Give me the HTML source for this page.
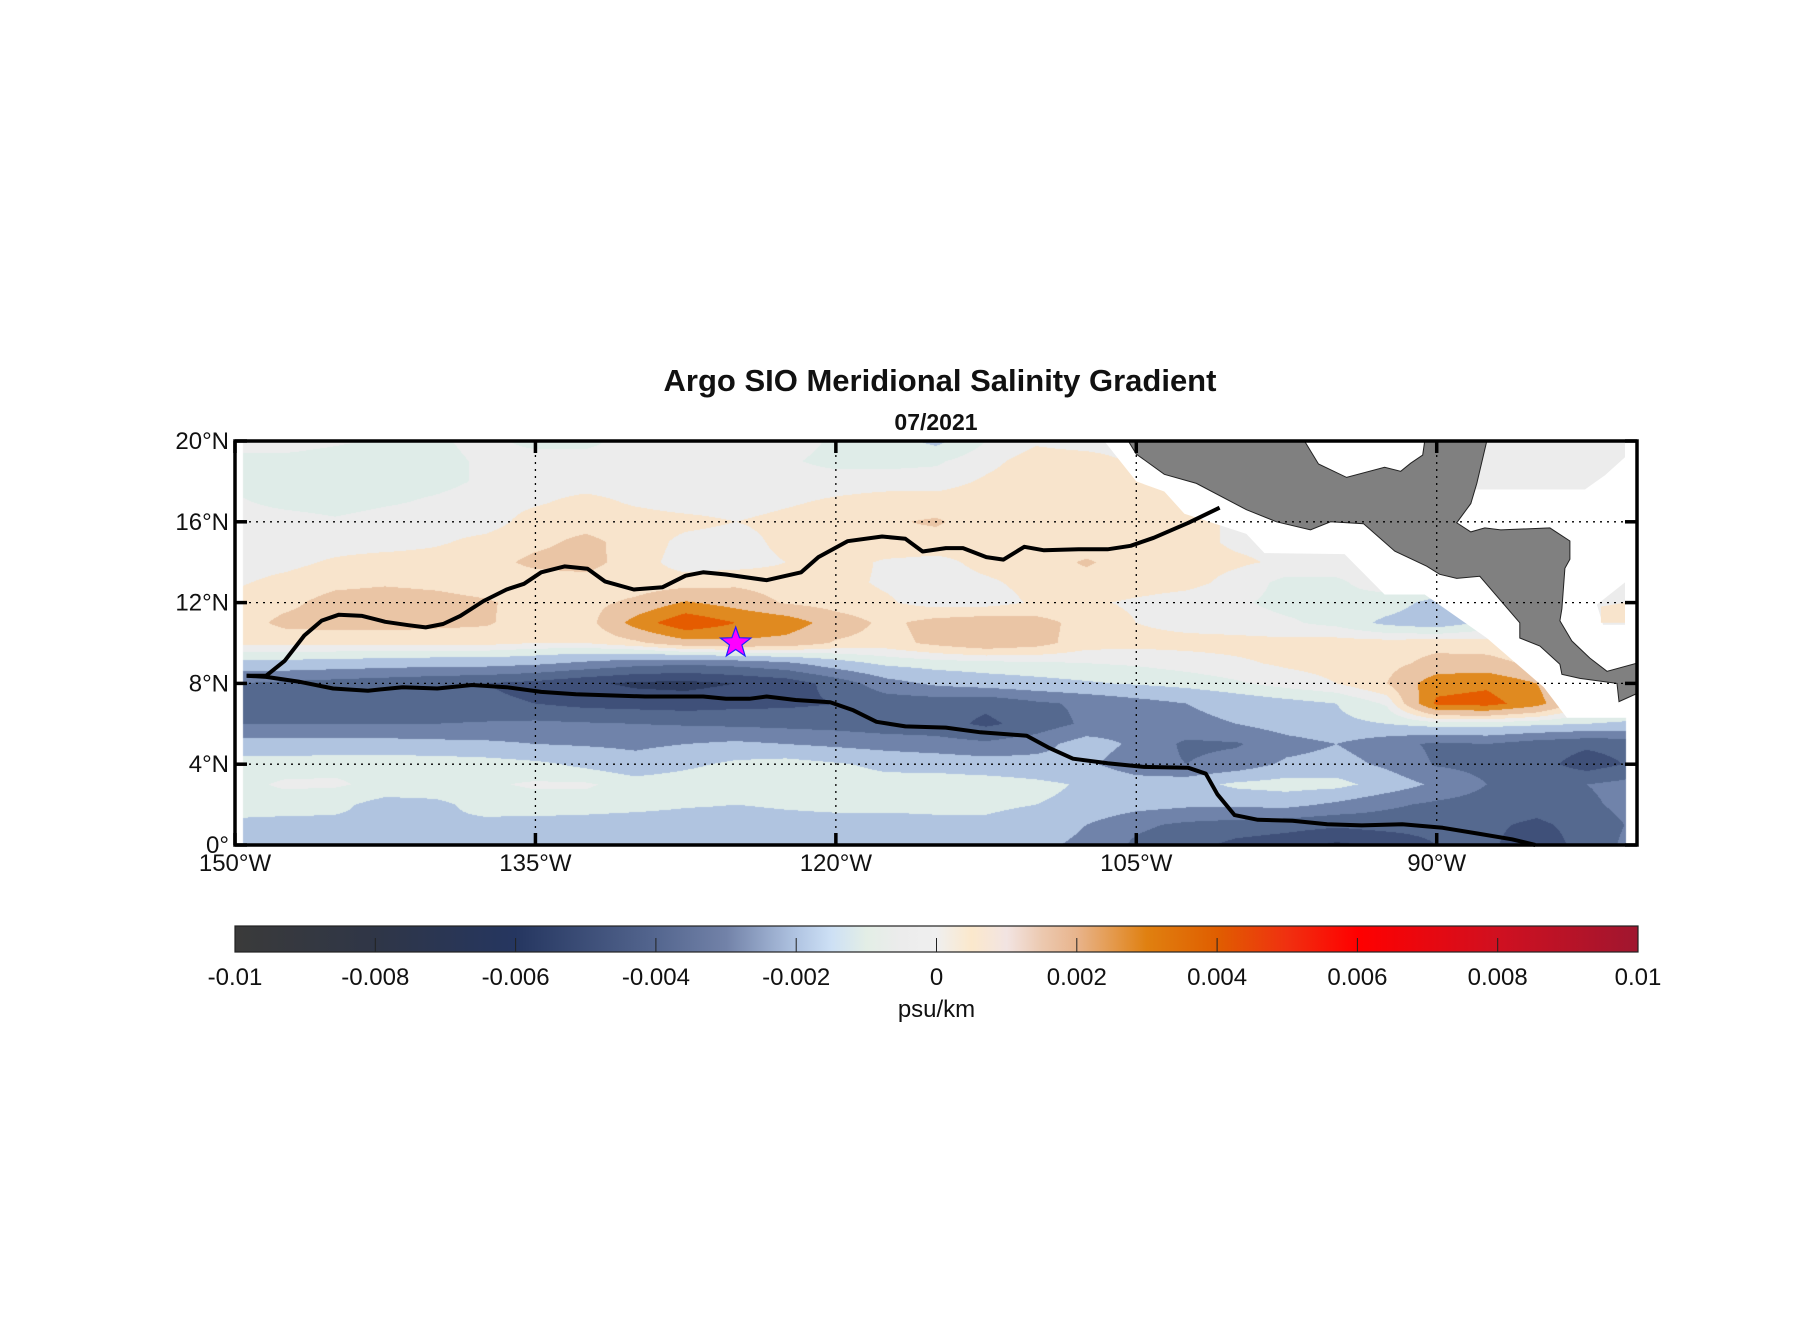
<!DOCTYPE html>
<html><head><meta charset="utf-8">
<style>
html,body{margin:0;padding:0;background:#fff;}
#wrap{position:relative;width:1808px;height:1333px;overflow:hidden;background:#fff;}
#field{position:absolute;left:235px;top:441px;}
svg{position:absolute;left:0;top:0;}
text{font-family:"Liberation Sans",Arial,sans-serif;fill:#111;}
</style></head>
<body>
<div id="wrap">
<canvas id="field" width="1402" height="404"></canvas>
<svg id="svg" width="1808" height="1333"></svg>
</div>
<script>
// ---- data (values in 1e-3 psu/km); rows lat 20 -> 0, columns lon 150W -> 80W step 2.5
const lons = [150,147.5,145,142.5,140,137.5,135,132.5,130,127.5,125,122.5,120,117.5,115,112.5,110,107.5,105,102.5,100,97.5,95,92.5,90,87.5,85,82.5,80];
const lats = [20,19,18,17,16,15,14,13,12,11,10,9,8,7,6,5,4,3,2,1,0];
const grad = [
[0,0,-0.2,-0.4,-0.4,-0.1,-0.5,-0.5,0,0,0,0,-0.4,-0.6,-1.2,-0.3,0.2,0,0,0,0,0,0,0,0,0,0,0,0],
[-0.5,-0.5,-0.6,-0.6,-0.5,-0.2,0,0,0,0,0,-0.2,-0.5,-0.5,-0.4,0.1,0.6,0.6,0.2,0,0,0,0,0,0,0,0,0,0],
[-0.5,-0.6,-0.6,-0.6,-0.5,-0.2,0,0,0,0,0,0,0,0,0,0.4,0.7,0.6,0.4,0.3,0,0,0,0,0,0,0,0,0],
[-0.2,-0.5,-0.6,-0.4,-0.2,0,0.2,0.5,0.2,0,0,0.2,0.4,0.6,0.6,0.7,0.7,0.5,0.5,0.5,0.2,0,0,0,0,0,0,0,0],
[0,0,-0.2,0,0,0,0.6,0.7,0.6,0.5,0.3,0.5,0.7,0.9,1.1,0.6,0.5,0.5,0.5,0.5,0.2,0,0,0,0,0,0,0,0],
[0,0,0,0,0.2,0.5,0.8,1.2,0.7,0.1,0,0.5,0.7,0.8,0.7,0.6,0.5,0.5,0.5,0.5,0.2,0.1,0,0,0,0,0,0,0],
[0,0.1,0.4,0.6,0.6,0.7,1.2,1.3,0.6,0,0,0.3,0.6,0.2,0.1,0.5,0.6,1.1,0.6,0.5,0.4,0.2,0,0,0,0,0,0,0],
[0.2,0.5,0.8,0.9,0.8,0.6,0.6,0.7,0.5,0.6,0.8,0.6,0.5,0.2,0,0.2,0.5,0.7,0.6,0.5,0.1,-0.5,-0.4,0,0,0,0,0,0],
[0.5,0.8,1.3,1.4,1.3,1.1,0.7,0.7,1.2,2.1,1.6,0.9,0.6,0.4,0,0,0.4,0.4,0.2,0,-0.2,-0.5,-0.4,-0.6,-1.3,-0.5,0,0,0],
[0.6,1.2,1.3,1.3,1.2,1.1,0.6,0.6,2.4,3.8,3.0,2.6,1.5,0.8,1.3,1.5,1.3,0.7,0.3,0.1,0,-0.2,-0.5,-1.2,-1.5,-0.8,0,0,0],
[0.5,0.5,0.5,0.5,0.5,0.5,0.3,0.3,0.8,1.6,1.8,1.6,0.9,0.7,1.2,1.6,1.3,0.6,0.5,0.5,0.5,0.5,0.6,0.6,0.7,0.6,0.3,0,0],
[-1.3,-1.3,-1.4,-1.5,-1.6,-1.6,-1.8,-2.2,-2.6,-2.8,-2.6,-2.2,-1.4,-0.8,-0.6,-0.5,-0.4,-0.3,-0.2,0,0.2,0.4,0.5,0.7,1.3,1.3,0.8,0.2,0],
[-3.0,-3.2,-3.4,-3.6,-3.8,-4.0,-4.3,-4.8,-5.2,-5.3,-5.0,-4.6,-3.6,-2.4,-1.8,-1.5,-1.3,-1.1,-0.9,-0.7,-0.4,0,0.3,1.0,2.6,2.8,2.0,0.3,0],
[-3.8,-3.9,-3.9,-3.8,-3.8,-3.8,-4.0,-4.3,-4.4,-4.5,-4.3,-4.2,-4.0,-3.6,-3.6,-3.8,-3.2,-2.8,-2.4,-2.0,-1.6,-1.3,-1.0,-0.2,3.2,3.4,2.4,0.3,0],
[-3.0,-3.0,-3.0,-3.0,-3.0,-2.9,-2.8,-2.9,-3.0,-3.1,-3.2,-3.3,-3.4,-3.6,-3.6,-4.2,-3.6,-2.8,-2.4,-2.3,-2.0,-1.5,-1.2,-1.0,-0.6,-0.6,-0.8,-1.0,-1.2],
[-1.6,-1.6,-1.6,-1.6,-1.7,-1.8,-2.0,-2.1,-2.2,-2.0,-1.8,-2.0,-2.2,-2.4,-2.6,-2.8,-2.4,-1.5,-2.2,-3.2,-3.1,-2.4,-2.0,-2.6,-3.2,-3.0,-3.5,-3.8,-3.6],
[-0.6,-0.6,-0.5,-0.5,-0.5,-0.6,-0.8,-1.2,-1.6,-1.2,-0.8,-0.6,-0.9,-1.2,-1.3,-1.5,-1.6,-1.8,-2.6,-3.0,-2.6,-1.8,-1.6,-2.2,-3.1,-3.3,-3.6,-4.5,-3.8],
[-0.5,-0.2,-0.2,-0.5,-0.5,-0.4,-0.2,-0.2,-0.6,-0.5,-0.5,-0.6,-0.6,-0.7,-0.6,-0.6,-0.8,-1.1,-1.5,-1.4,-0.8,-0.6,-0.7,-1.4,-2.2,-3.0,-3.2,-3.0,-2.6],
[-0.6,-0.6,-0.8,-1.3,-1.2,-0.7,-0.6,-0.6,-0.7,-0.9,-1.0,-0.9,-0.8,-0.8,-0.8,-0.8,-1.0,-1.2,-1.6,-1.8,-1.8,-1.7,-2.2,-2.8,-3.2,-3.4,-3.6,-3.2,-2.6],
[-1.2,-1.3,-1.2,-1.1,-1.1,-1.2,-1.3,-1.4,-1.5,-1.5,-1.4,-1.3,-1.3,-1.3,-1.2,-1.2,-1.5,-2.0,-2.8,-3.2,-3.4,-3.6,-3.8,-3.6,-3.6,-3.8,-4.2,-3.6,-2.8],
[-1.5,-1.5,-1.5,-1.5,-1.5,-1.5,-1.5,-1.5,-1.6,-1.6,-1.5,-1.5,-1.5,-1.5,-1.5,-1.5,-1.8,-2.2,-3.2,-3.6,-4.3,-4.6,-5.2,-4.8,-4.0,-3.8,-4.6,-3.6,-2.6]
];
// contour lines (lon W, lat N)
const line1Lon = [149.42,148.44,147.52,146.54,145.67,144.81,143.65,142.50,141.34,140.48,139.61,138.75,137.59,136.44,135.57,134.71,133.55,132.40,131.53,130.09,128.65,127.50,126.63,125.48,123.46,121.73,120.87,119.42,117.69,116.53,115.67,114.51,113.65,112.49,111.63,110.59,109.61,107.88,106.43,105.28,104.13,102.40,100.84];
const line1Lat = [8.38,8.38,9.12,10.37,11.11,11.40,11.34,11.05,10.88,10.77,10.94,11.34,12.08,12.65,12.93,13.50,13.79,13.68,13.05,12.65,12.76,13.33,13.50,13.39,13.11,13.50,14.25,15.04,15.27,15.16,14.53,14.70,14.70,14.25,14.13,14.76,14.59,14.64,14.64,14.81,15.21,15.95,16.70];
const line2Lon = [149.42,148.44,146.83,145.10,143.36,141.63,139.90,138.17,136.44,134.71,132.98,129.52,126.63,125.48,124.32,123.46,122.01,120.28,119.13,117.97,116.53,114.51,112.78,110.47,109.32,108.16,106.43,104.70,102.40,101.53,100.95,100.09,98.93,97.20,95.47,93.74,91.72,89.70,87.97,86.24,85.08];
const line2Lat = [8.38,8.32,8.09,7.75,7.64,7.81,7.75,7.92,7.81,7.58,7.46,7.35,7.35,7.24,7.24,7.35,7.18,7.07,6.67,6.10,5.87,5.81,5.58,5.41,4.79,4.27,4.05,3.87,3.82,3.53,2.51,1.48,1.25,1.20,1.03,0.97,1.03,0.85,0.57,0.28,0];
const starLon = [125.0], starLat = [10.0];
const lonTicks = [150,135,120,105,90];
const lonTickLabels = ["150°W","135°W","120°W","105°W","90°W"];
const latTicks = [0,4,8,12,16,20];
const latTickLabels = ["0°","4°N","8°N","12°N","16°N","20°N"];
const cbTicks = [-0.01,-0.008,-0.006,-0.004,-0.002,0,0.002,0.004,0.006,0.008,0.01];
const cbTickLabels = ["-0.01","-0.008","-0.006","-0.004","-0.002","0","0.002","0.004","0.006","0.008","0.01"];
// level classes (1e-3 units)
const levelEdges = [-5,-4,-3,-2,-1,-0.3,0.3,1,2,3];
const levelColors = ["#2d3b5e","#3f5079","#55698f","#7083aa","#b0c4e0","#dfece8","#ececec","#f8e4cc","#eac5a5","#e08a20","#e55c00"];

// ---- axes
const X0=235,X1=1637,Y0=441,Y1=845;
const LONW=150, LONE=80;
function xOf(lon){return X0+(LONW-lon)/(LONW-LONE)*(X1-X0);}
function yOf(lat){return Y1-lat/20*(Y1-Y0);}
const CB0=235,CB1=1638,CBY=926,CBH=26;
function cbX(v){return CB0+(v+0.01)/0.02*(CB1-CB0);}

// ---- field
(function(){
  const cv=document.getElementById('field');const ctx=cv.getContext('2d');
  const W=cv.width,H=cv.height;const img=ctx.createImageData(W,H);
  const cols=levelColors.map(h=>[parseInt(h.substr(1,2),16),parseInt(h.substr(3,2),16),parseInt(h.substr(5,2),16)]);
  const lonL=149.6,lonR=80.55;
  for(let py=0;py<H;py++){
    const lat=20-(py+0.5)/H*20;
    let r=(20-lat); let r0=Math.min(Math.floor(r),19); let fr=r-r0;
    for(let px=0;px<W;px++){
      const lon=LONW-(px+0.5)/W*(LONW-LONE);
      const k=(py*W+px)*4;
      if(lon>lonL||lon<lonR){img.data[k]=255;img.data[k+1]=255;img.data[k+2]=255;img.data[k+3]=255;continue;}
      let c=(LONW-lon)/2.5; let c0=Math.min(Math.floor(c),27); let fc=c-c0;
      const v=(grad[r0][c0]*(1-fc)+grad[r0][c0+1]*fc)*(1-fr)+(grad[r0+1][c0]*(1-fc)+grad[r0+1][c0+1]*fc)*fr;
      let idx=0; while(idx<levelEdges.length&&v>=levelEdges[idx])idx++;
      const col=cols[idx];
      img.data[k]=col[0];img.data[k+1]=col[1];img.data[k+2]=col[2];img.data[k+3]=255;
    }
  }
  ctx.putImageData(img,0,0);
})();

// ---- svg
const NS='http://www.w3.org/2000/svg';
const svg=document.getElementById('svg');
function mk(tag,attrs,parent){const e=document.createElementNS(NS,tag);for(const a in attrs)e.setAttribute(a,attrs[a]);(parent||svg).appendChild(e);return e;}
function ptsLL(arr){return arr.map(p=>xOf(p[0]).toFixed(1)+','+yOf(p[1]).toFixed(1)).join(' ');}

// mask (no data near coast)
const maskPoly=[[106.6,20],[105,18.0],[103.6,17.5],[102.6,16.4],[99.5,15.4],[98.6,14.45],[94.6,14.4],[92.6,12.4],[90.6,12.4],[87.5,10.25],[84.65,7.8],[83.5,6.3],[80,6.3],[80,20]];
let m=mk('polygon',{points:ptsLL(maskPoly),fill:'#ffffff'});


let g1=mk('polygon',{points:ptsLL([[88.2,20],[80.6,20],[80.6,19.2],[81.6,18.3],[82.6,17.6],[88.2,17.6]]),fill:'#ececec'});


let g2=mk('polygon',{points:ptsLL([[80.6,13.0],[82.0,11.9],[81.7,10.9],[80.6,10.9]]),fill:'#ececec'});


let g3=mk('polygon',{points:ptsLL([[80.6,12.0],[81.8,11.8],[81.8,11.0],[80.6,11.0]]),fill:'#f8e4cc'});



// land
const land=[[105.4,20],[105,19.35],[103.6,18.35],[102.0,17.9],[99.5,16.6],[98.0,16.0],[96.3,15.6],[95.3,16.0],[93.65,15.9],[92.1,14.55],[90.5,13.8],[89.85,13.4],[89.0,13.2],[87.85,13.3],[87.5,12.9],[85.85,11.0],[85.85,10.25],[84.85,9.85],[83.85,8.95],[83.75,8.45],[82.85,8.25],[81.0,8.0],[80.9,7.1],[80,7.5],[80,9.0],[81.5,8.6],[82.35,9.25],[83.25,10.1],[83.85,11.1],[83.75,11.7],[83.6,13.7],[83.35,14.15],[83.35,15.05],[84.35,15.7],[86.8,15.6],[87.6,15.7],[88.3,15.5],[89.0,15.95],[88.3,16.9],[88.0,17.9],[87.5,20],[90.6,20],[90.7,19.3],[91.3,18.9],[91.8,18.5],[92.6,18.7],[94.5,18.2],[95.9,18.86],[96.6,20]];
let ld=mk('polygon',{points:ptsLL(land),fill:'#808080',stroke:'#222','stroke-width':1});



// grid
lonTicks.slice(1).forEach((lon,i)=>{
  const l=mk('line',{x1:xOf(lon),x2:xOf(lon),y1:Y0,y2:Y1,stroke:'#000','stroke-width':1.3,'stroke-dasharray':'2,5'});
  
  
});
latTicks.slice(1,5).forEach(lat=>{
  const l=mk('line',{x1:X0,x2:X1,y1:yOf(lat),y2:yOf(lat),stroke:'#000','stroke-width':1.3,'stroke-dasharray':'2,5'});
  
  
});

// contour lines
function polyl(lonA,latA,name){
  const p=lonA.map((lo,i)=>xOf(lo).toFixed(1)+','+yOf(latA[i]).toFixed(1)).join(' ');
  const e=mk('polyline',{points:p,fill:'none',stroke:'#000','stroke-width':4,'stroke-linejoin':'round'});
  
  
}
polyl(line1Lon,line1Lat,'northern-contour-line');
polyl(line2Lon,line2Lat,'southern-contour-line');

// star
starLon.forEach((lo,i)=>{
  const cx=xOf(lo),cy=yOf(starLat[i]);let p=[];
  for(let k=0;k<10;k++){const r=k%2?6.5:16;const a=-Math.PI/2+k*Math.PI/5;p.push((cx+r*Math.cos(a)).toFixed(1)+','+(cy+r*Math.sin(a)).toFixed(1));}
  const s=mk('polygon',{points:p.join(' '),fill:'#ff00ff',stroke:'#2020ff','stroke-width':1.2});
  
  
});

// box
let bx=mk('rect',{x:X0,y:Y0,width:X1-X0,height:Y1-Y0,fill:'none',stroke:'#000','stroke-width':3.5});


// ticks + labels
lonTicks.forEach((lon,i)=>{
  const x=xOf(lon);
  mk('line',{x1:x,x2:x,y1:Y1,y2:Y1-12,stroke:'#000','stroke-width':3.5});
  mk('line',{x1:x,x2:x,y1:Y0,y2:Y0+12,stroke:'#000','stroke-width':3.5});
  const t=mk('text',{x:x,y:871,'font-size':24,'text-anchor':'middle'});t.textContent=lonTickLabels[i];
  
  
});
latTicks.forEach((lat,i)=>{
  const y=yOf(lat);
  mk('line',{x1:X0,x2:X0+12,y1:y,y2:y,stroke:'#000','stroke-width':3.5});
  mk('line',{x1:X1,x2:X1-12,y1:y,y2:y,stroke:'#000','stroke-width':3.5});
  const t=mk('text',{x:229,y:y+8,'font-size':24,'text-anchor':'end'});t.textContent=latTickLabels[i];
  
  
});

// titles
let tt=mk('text',{x:940,y:391,'font-size':31,'font-weight':'bold','text-anchor':'middle'});tt.textContent='Argo SIO Meridional Salinity Gradient';


let st=mk('text',{x:936,y:430,'font-size':23,'font-weight':'bold','text-anchor':'middle'});st.textContent='07/2021';



// colorbar
const defs=mk('defs',{});
const lg=mk('linearGradient',{id:'cbg',x1:0,x2:1,y1:0,y2:0},defs);
const cbStops=[[-0.01,'#3a3a3a'],[-0.008,'#2f3647'],[-0.006,'#253660'],[-0.004,'#54668f'],[-0.003,'#7282a8'],[-0.002,'#b0c4e2'],[-0.0015,'#cde0f5'],[-0.001,'#e3eee6'],[-0.0005,'#ececec'],[0,'#efefef'],[0.0005,'#fbe8cc'],[0.001,'#f2e4e2'],[0.0015,'#ecc9b0'],[0.002,'#e8b48c'],[0.003,'#e08010'],[0.004,'#e05e00'],[0.005,'#f03010'],[0.006,'#ff0000'],[0.008,'#d01020'],[0.01,'#a0162f']];
cbStops.forEach(s=>mk('stop',{offset:((s[0]+0.01)/0.02*100).toFixed(2)+'%','stop-color':s[1]},lg));
let cb=mk('rect',{x:CB0,y:CBY,width:CB1-CB0,height:CBH,fill:'url(#cbg)',stroke:'#222','stroke-width':1.2});


cbTicks.forEach((v,i)=>{
  const x=cbX(v);
  if(i>0&&i<cbTicks.length-1) mk('line',{x1:x,x2:x,y1:CBY+CBH,y2:CBY+CBH-14,stroke:'#222','stroke-width':1});
  const t=mk('text',{x:x,y:985,'font-size':24,'text-anchor':'middle',fill:'#222'});t.textContent=cbTickLabels[i];
  
  
});
let un=mk('text',{x:cbX(0),y:1017,'font-size':24,'text-anchor':'middle',fill:'#222'});un.textContent='psu/km';


</script>
</body></html>
